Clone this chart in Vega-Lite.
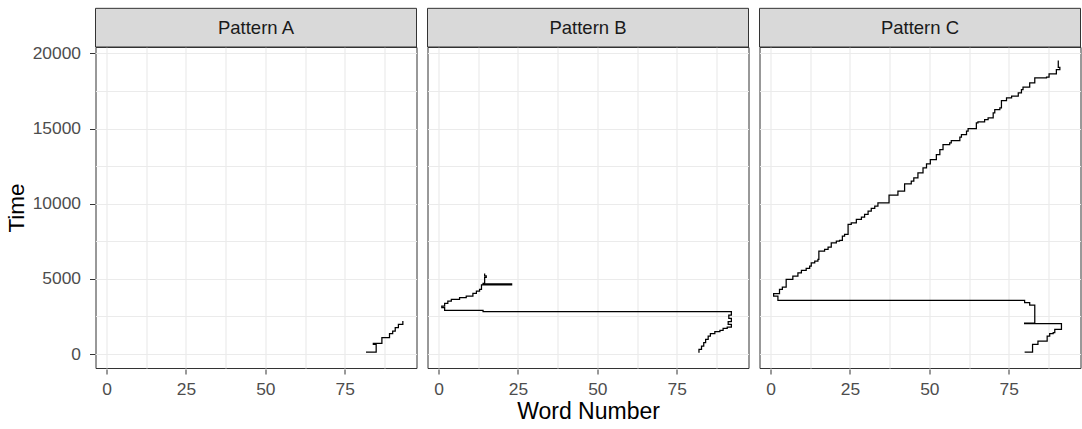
{
  "$schema": "https://vega.github.io/schema/vega-lite/v6.json",
  "padding": {"left": 4.5, "top": 7, "right": 0, "bottom": 0},
  "datasets": {
    "reads": [
      {"pattern": "Pattern A", "i": 1, "word": 81.7, "time": 133},
      {"pattern": "Pattern A", "i": 2, "word": 84.9, "time": 643},
      {"pattern": "Pattern A", "i": 3, "word": 84.0, "time": 710},
      {"pattern": "Pattern A", "i": 4, "word": 86.7, "time": 1086},
      {"pattern": "Pattern A", "i": 5, "word": 89.1, "time": 1352},
      {"pattern": "Pattern A", "i": 6, "word": 90.1, "time": 1529},
      {"pattern": "Pattern A", "i": 7, "word": 90.9, "time": 1751},
      {"pattern": "Pattern A", "i": 8, "word": 91.9, "time": 1973},
      {"pattern": "Pattern A", "i": 9, "word": 93.3, "time": 2194},

      {"pattern": "Pattern B", "i": 1, "word": 82.0, "time": 88},
      {"pattern": "Pattern B", "i": 2, "word": 82.0, "time": 310},
      {"pattern": "Pattern B", "i": 3, "word": 82.8, "time": 532},
      {"pattern": "Pattern B", "i": 4, "word": 83.5, "time": 754},
      {"pattern": "Pattern B", "i": 5, "word": 84.1, "time": 975},
      {"pattern": "Pattern B", "i": 6, "word": 84.9, "time": 1197},
      {"pattern": "Pattern B", "i": 7, "word": 85.6, "time": 1352},
      {"pattern": "Pattern B", "i": 8, "word": 87.0, "time": 1485},
      {"pattern": "Pattern B", "i": 9, "word": 88.6, "time": 1574},
      {"pattern": "Pattern B", "i": 10, "word": 89.6, "time": 1707},
      {"pattern": "Pattern B", "i": 11, "word": 90.9, "time": 1795},
      {"pattern": "Pattern B", "i": 12, "word": 92.2, "time": 1973},
      {"pattern": "Pattern B", "i": 13, "word": 91.2, "time": 2150},
      {"pattern": "Pattern B", "i": 14, "word": 92.2, "time": 2372},
      {"pattern": "Pattern B", "i": 15, "word": 91.4, "time": 2593},
      {"pattern": "Pattern B", "i": 16, "word": 92.2, "time": 2815},
      {"pattern": "Pattern B", "i": 17, "word": 14.0, "time": 2904},
      {"pattern": "Pattern B", "i": 18, "word": 1.9, "time": 3081},
      {"pattern": "Pattern B", "i": 19, "word": 1.0, "time": 3191},
      {"pattern": "Pattern B", "i": 20, "word": 1.9, "time": 3369},
      {"pattern": "Pattern B", "i": 21, "word": 2.9, "time": 3524},
      {"pattern": "Pattern B", "i": 22, "word": 4.0, "time": 3635},
      {"pattern": "Pattern B", "i": 23, "word": 6.6, "time": 3746},
      {"pattern": "Pattern B", "i": 24, "word": 8.7, "time": 3856},
      {"pattern": "Pattern B", "i": 25, "word": 10.8, "time": 4034},
      {"pattern": "Pattern B", "i": 26, "word": 11.9, "time": 4189},
      {"pattern": "Pattern B", "i": 27, "word": 12.9, "time": 4300},
      {"pattern": "Pattern B", "i": 28, "word": 13.5, "time": 4600},
      {"pattern": "Pattern B", "i": 29, "word": 23.0, "time": 4660},
      {"pattern": "Pattern B", "i": 30, "word": 14.0, "time": 4700},
      {"pattern": "Pattern B", "i": 31, "word": 14.5, "time": 5100},
      {"pattern": "Pattern B", "i": 32, "word": 15.0, "time": 5200},
      {"pattern": "Pattern B", "i": 33, "word": 14.5, "time": 5365},

      {"pattern": "Pattern C", "i": 1, "word": 80.0, "time": 133},
      {"pattern": "Pattern C", "i": 2, "word": 82.5, "time": 643},
      {"pattern": "Pattern C", "i": 3, "word": 84.2, "time": 865},
      {"pattern": "Pattern C", "i": 4, "word": 87.1, "time": 1197},
      {"pattern": "Pattern C", "i": 5, "word": 87.9, "time": 1352},
      {"pattern": "Pattern C", "i": 6, "word": 89.0, "time": 1418},
      {"pattern": "Pattern C", "i": 7, "word": 89.5, "time": 1640},
      {"pattern": "Pattern C", "i": 8, "word": 91.6, "time": 2017},
      {"pattern": "Pattern C", "i": 9, "word": 80.0, "time": 2061},
      {"pattern": "Pattern C", "i": 10, "word": 83.2, "time": 3258},
      {"pattern": "Pattern C", "i": 11, "word": 81.6, "time": 3413},
      {"pattern": "Pattern C", "i": 12, "word": 80.0, "time": 3568},
      {"pattern": "Pattern C", "i": 13, "word": 2.3, "time": 3856},
      {"pattern": "Pattern C", "i": 14, "word": 0.95, "time": 4011},
      {"pattern": "Pattern C", "i": 15, "word": 2.8, "time": 4299},
      {"pattern": "Pattern C", "i": 16, "word": 3.7, "time": 4454},
      {"pattern": "Pattern C", "i": 17, "word": 4.9, "time": 4964},
      {"pattern": "Pattern C", "i": 18, "word": 7.0, "time": 5186},
      {"pattern": "Pattern C", "i": 19, "word": 8.6, "time": 5408},
      {"pattern": "Pattern C", "i": 20, "word": 9.7, "time": 5563},
      {"pattern": "Pattern C", "i": 21, "word": 11.2, "time": 5696},
      {"pattern": "Pattern C", "i": 22, "word": 12.3, "time": 5851},
      {"pattern": "Pattern C", "i": 23, "word": 12.8, "time": 6073},
      {"pattern": "Pattern C", "i": 24, "word": 13.9, "time": 6183},
      {"pattern": "Pattern C", "i": 25, "word": 14.9, "time": 6294},
      {"pattern": "Pattern C", "i": 26, "word": 15.2, "time": 6848},
      {"pattern": "Pattern C", "i": 27, "word": 17.0, "time": 6959},
      {"pattern": "Pattern C", "i": 28, "word": 18.1, "time": 7114},
      {"pattern": "Pattern C", "i": 29, "word": 19.1, "time": 7402},
      {"pattern": "Pattern C", "i": 30, "word": 20.7, "time": 7513},
      {"pattern": "Pattern C", "i": 31, "word": 21.7, "time": 7557},
      {"pattern": "Pattern C", "i": 32, "word": 22.6, "time": 7845},
      {"pattern": "Pattern C", "i": 33, "word": 23.3, "time": 7956},
      {"pattern": "Pattern C", "i": 34, "word": 24.4, "time": 8621},
      {"pattern": "Pattern C", "i": 35, "word": 25.4, "time": 8732},
      {"pattern": "Pattern C", "i": 36, "word": 27.0, "time": 8954},
      {"pattern": "Pattern C", "i": 37, "word": 28.6, "time": 9109},
      {"pattern": "Pattern C", "i": 38, "word": 29.6, "time": 9286},
      {"pattern": "Pattern C", "i": 39, "word": 30.7, "time": 9508},
      {"pattern": "Pattern C", "i": 40, "word": 31.7, "time": 9685},
      {"pattern": "Pattern C", "i": 41, "word": 32.8, "time": 9840},
      {"pattern": "Pattern C", "i": 42, "word": 33.8, "time": 10062},
      {"pattern": "Pattern C", "i": 43, "word": 37.3, "time": 10572},
      {"pattern": "Pattern C", "i": 44, "word": 40.1, "time": 10838},
      {"pattern": "Pattern C", "i": 45, "word": 42.2, "time": 11326},
      {"pattern": "Pattern C", "i": 46, "word": 44.3, "time": 11503},
      {"pattern": "Pattern C", "i": 47, "word": 45.1, "time": 11724},
      {"pattern": "Pattern C", "i": 48, "word": 46.4, "time": 12057},
      {"pattern": "Pattern C", "i": 49, "word": 48.0, "time": 12389},
      {"pattern": "Pattern C", "i": 50, "word": 49.1, "time": 12655},
      {"pattern": "Pattern C", "i": 51, "word": 50.3, "time": 12943},
      {"pattern": "Pattern C", "i": 52, "word": 52.2, "time": 13276},
      {"pattern": "Pattern C", "i": 53, "word": 53.3, "time": 13608},
      {"pattern": "Pattern C", "i": 54, "word": 54.3, "time": 13941},
      {"pattern": "Pattern C", "i": 55, "word": 56.4, "time": 14052},
      {"pattern": "Pattern C", "i": 56, "word": 56.9, "time": 14207},
      {"pattern": "Pattern C", "i": 57, "word": 59.6, "time": 14428},
      {"pattern": "Pattern C", "i": 58, "word": 60.1, "time": 14606},
      {"pattern": "Pattern C", "i": 59, "word": 61.7, "time": 14827},
      {"pattern": "Pattern C", "i": 60, "word": 62.2, "time": 15005},
      {"pattern": "Pattern C", "i": 61, "word": 64.8, "time": 15381},
      {"pattern": "Pattern C", "i": 62, "word": 65.3, "time": 15448},
      {"pattern": "Pattern C", "i": 63, "word": 67.4, "time": 15603},
      {"pattern": "Pattern C", "i": 64, "word": 68.5, "time": 15714},
      {"pattern": "Pattern C", "i": 65, "word": 70.1, "time": 16047},
      {"pattern": "Pattern C", "i": 66, "word": 70.6, "time": 16269},
      {"pattern": "Pattern C", "i": 67, "word": 72.2, "time": 16379},
      {"pattern": "Pattern C", "i": 68, "word": 72.7, "time": 16866},
      {"pattern": "Pattern C", "i": 69, "word": 74.3, "time": 17043},
      {"pattern": "Pattern C", "i": 70, "word": 75.9, "time": 17154},
      {"pattern": "Pattern C", "i": 71, "word": 78.0, "time": 17376},
      {"pattern": "Pattern C", "i": 72, "word": 79.0, "time": 17597},
      {"pattern": "Pattern C", "i": 73, "word": 79.5, "time": 17753},
      {"pattern": "Pattern C", "i": 74, "word": 81.6, "time": 18040},
      {"pattern": "Pattern C", "i": 75, "word": 83.2, "time": 18373},
      {"pattern": "Pattern C", "i": 76, "word": 86.9, "time": 18418},
      {"pattern": "Pattern C", "i": 77, "word": 87.7, "time": 18639},
      {"pattern": "Pattern C", "i": 78, "word": 90.0, "time": 18928},
      {"pattern": "Pattern C", "i": 79, "word": 91.1, "time": 19082},
      {"pattern": "Pattern C", "i": 80, "word": 90.6, "time": 19260},
      {"pattern": "Pattern C", "i": 81, "word": 90.6, "time": 19526}
    ]
  },
  "data": {"name": "reads"},
  "facet": {
    "column": {
      "field": "pattern",
      "type": "nominal",
      "header": {
        "title": "Word Number",
        "titleOrient": "bottom",
        "labels": false,
        "titleFontSize": 23,
        "titleFontWeight": "normal",
        "titleColor": "#000000",
        "titleFont": "Liberation Sans",
        "titlePadding": -7
      }
    }
  },
  "spacing": {"column": 9},
  "spec": {
    "width": 321,
    "height": 321,
    "layer": [
      {
        "mark": {"type": "line", "interpolate": "step-after", "color": "#000000", "strokeWidth": 1.25},
        "encoding": {
          "x": {
            "field": "word",
            "type": "quantitative",
            "scale": {"domain": [-3.5, 97.6], "nice": false, "zero": false},
            "axis": {
              "title": null,
              "labelPadding": 6,
              "values": [0, 12.5, 25, 37.5, 50, 62.5, 75, 87.5],
              "labelExpr": "datum.value % 25 === 0 ? datum.label : ''",
              "tickOpacity": {"condition": {"test": "datum.value % 25 !== 0", "value": 0}, "value": 1}
            }
          },
          "y": {
            "field": "time",
            "type": "quantitative",
            "title": "Time",
            "scale": {"domain": [-930, 20430], "nice": false, "zero": false},
            "axis": {
              "labelPadding": 9,
              "titlePadding": 4,
              "values": [0, 2500, 5000, 7500, 10000, 12500, 15000, 17500, 20000],
              "labelExpr": "datum.value % 5000 === 0 ? datum.label : ''",
              "format": "d",
              "tickOpacity": {"condition": {"test": "datum.value % 5000 !== 0", "value": 0}, "value": 1}
            }
          },
          "order": {"field": "i", "type": "quantitative"}
        }
      },
      {
        "transform": [{"aggregate": [{"op": "count", "as": "n"}], "groupby": ["pattern"]}],
        "mark": {"type": "rect", "clip": false, "fill": "#D9D9D9", "stroke": "#333333", "strokeWidth": 1},
        "encoding": {
          "x": {"datum": -3.5},
          "x2": {"datum": 97.6},
          "y": {"datum": 20430},
          "y2": {"datum": 23003}
        }
      },
      {
        "transform": [{"aggregate": [{"op": "count", "as": "n"}], "groupby": ["pattern"]}],
        "mark": {"type": "text", "clip": false, "fontSize": 18.5, "font": "Liberation Sans", "color": "#1A1A1A", "align": "center", "baseline": "middle"},
        "encoding": {
          "x": {"datum": 47.05},
          "y": {"datum": 21716},
          "text": {"field": "pattern", "type": "nominal"}
        }
      }
    ]
  },
  "config": {
    "font": "Liberation Sans",
    "view": {"stroke": "#333333", "strokeWidth": 1},
    "axis": {
      "domain": false,
      "labelFontSize": 17.4,
      "labelColor": "#4D4D4D",
      "labelFont": "Liberation Sans",
      "titleFontSize": 22.5,
      "titleFontWeight": "normal",
      "titleColor": "#000000",
      "titleFont": "Liberation Sans",
      "tickColor": "#333333",
      "tickSize": 5,
      "gridColor": "#EBEBEB",
      "gridWidth": 1.2
    }
  }
}
